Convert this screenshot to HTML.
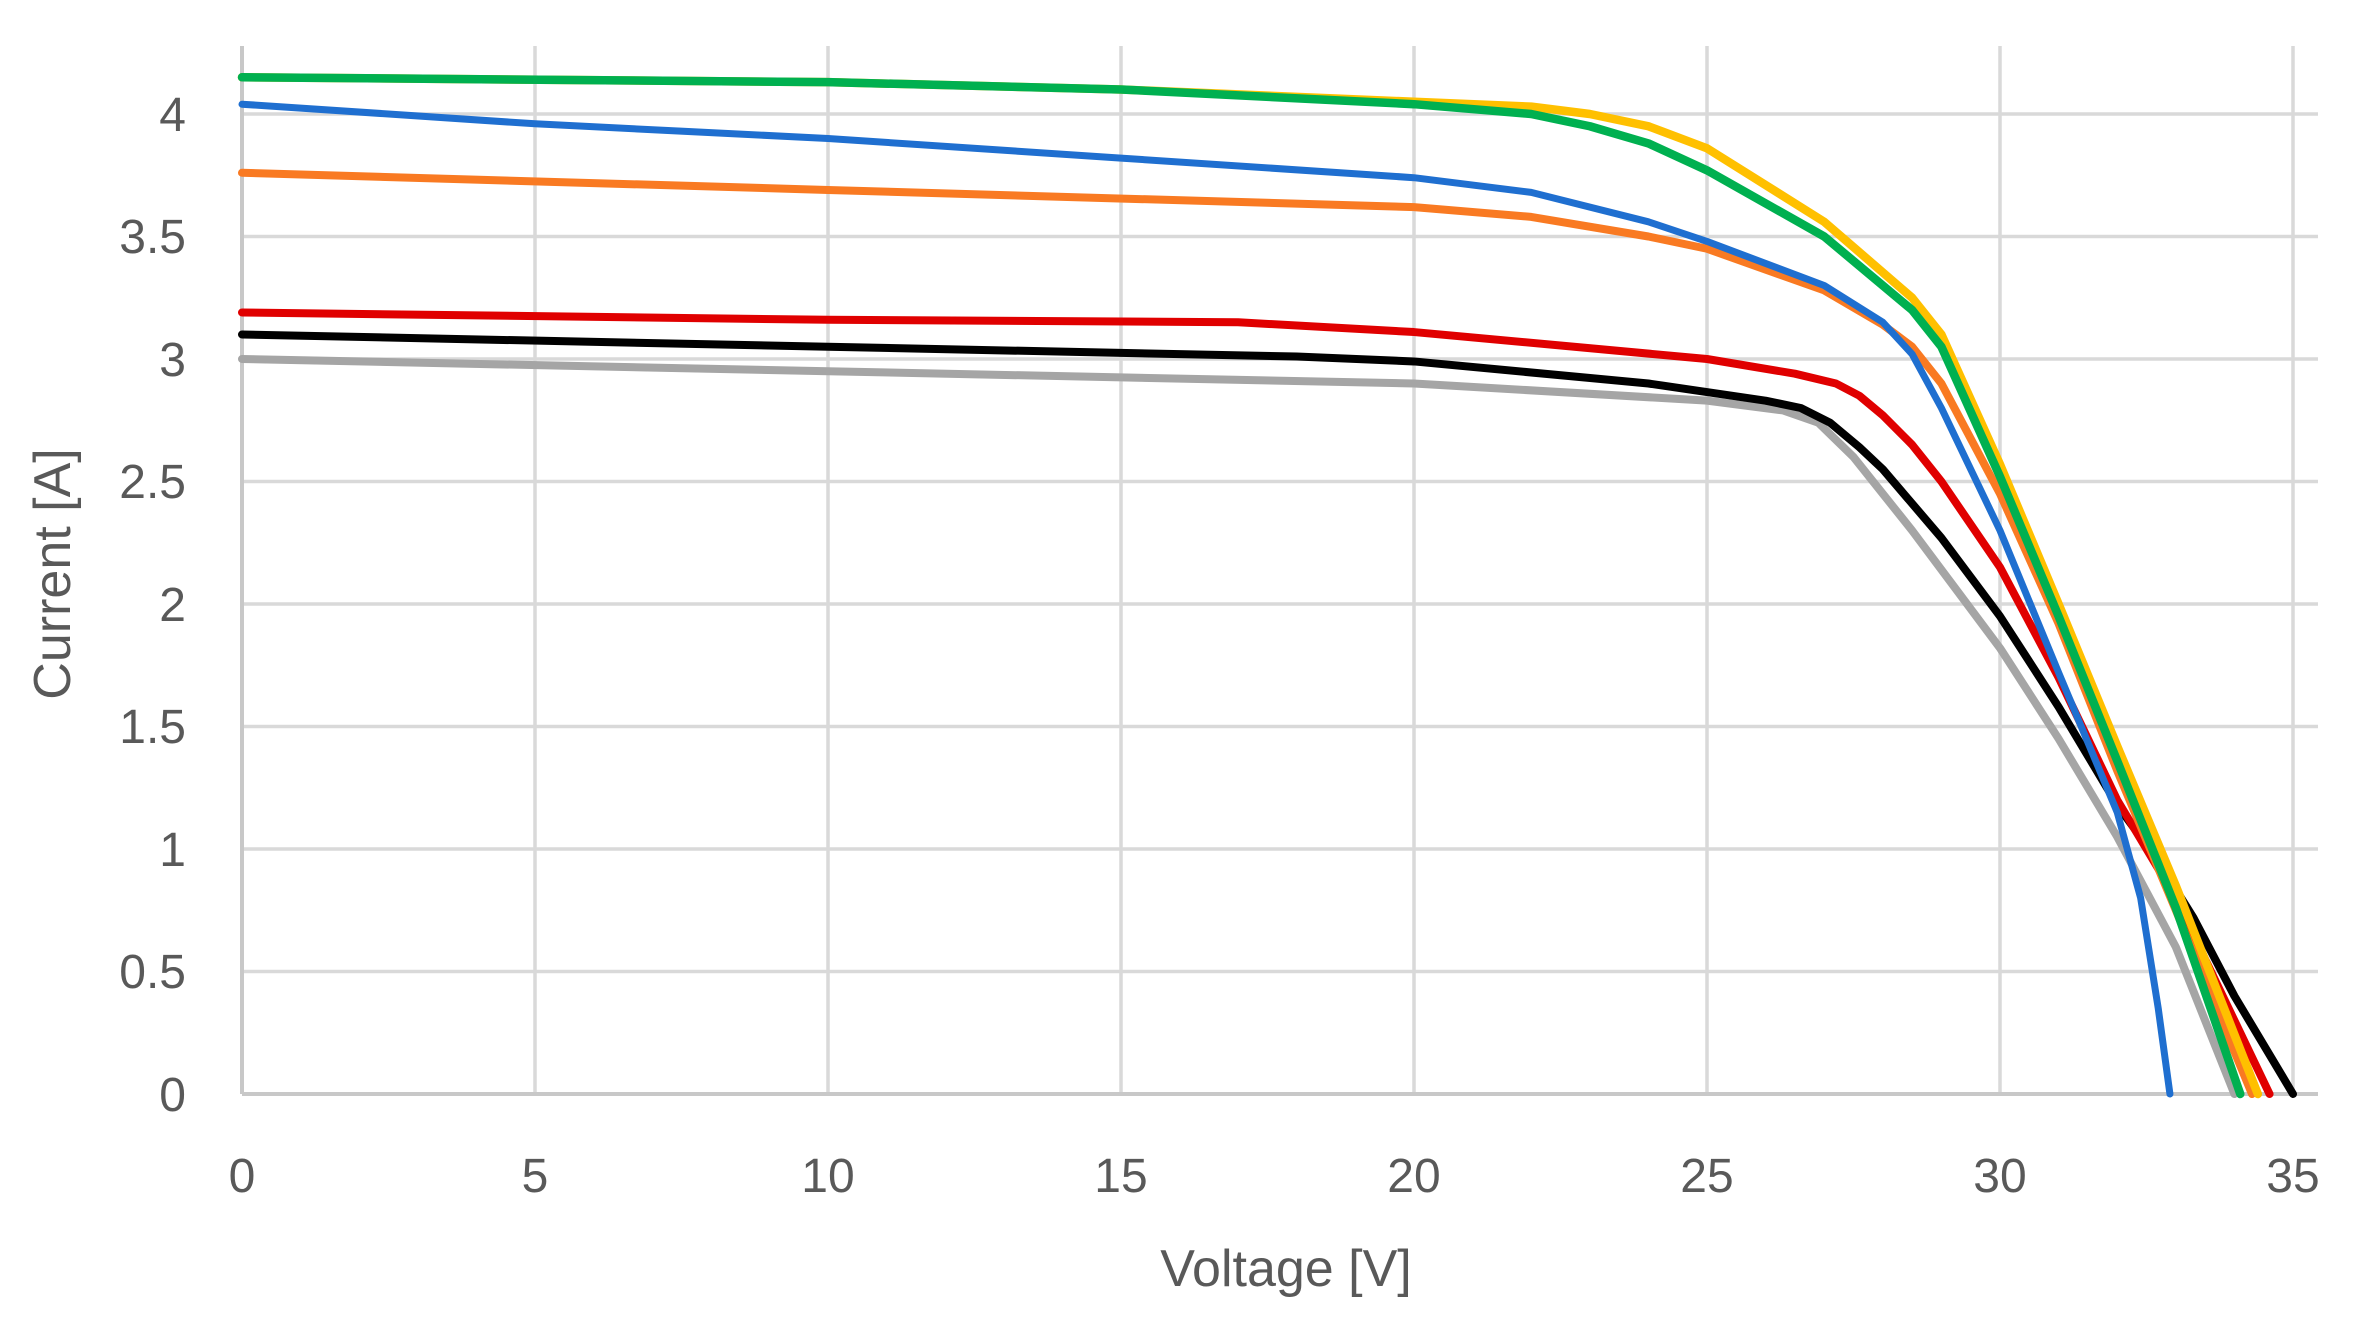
<!DOCTYPE html>
<html><head><meta charset="utf-8"><style>
html,body{margin:0;padding:0;background:#fff;}
svg{display:block;}
text{font-family:"Liberation Sans",sans-serif;fill:#595959;}
</style></head><body>
<svg width="2355" height="1323" viewBox="0 0 2355 1323" xmlns="http://www.w3.org/2000/svg">
<g stroke="#d9d9d9" stroke-width="3.5">
<line x1="242" y1="46" x2="242" y2="1094"/>
<line x1="535" y1="46" x2="535" y2="1094"/>
<line x1="828" y1="46" x2="828" y2="1094"/>
<line x1="1121" y1="46" x2="1121" y2="1094"/>
<line x1="1414" y1="46" x2="1414" y2="1094"/>
<line x1="1707" y1="46" x2="1707" y2="1094"/>
<line x1="2000" y1="46" x2="2000" y2="1094"/>
<line x1="2293" y1="46" x2="2293" y2="1094"/>
<line x1="242" y1="971.5" x2="2318" y2="971.5"/>
<line x1="242" y1="849" x2="2318" y2="849"/>
<line x1="242" y1="726.5" x2="2318" y2="726.5"/>
<line x1="242" y1="604" x2="2318" y2="604"/>
<line x1="242" y1="481.5" x2="2318" y2="481.5"/>
<line x1="242" y1="359" x2="2318" y2="359"/>
<line x1="242" y1="236.5" x2="2318" y2="236.5"/>
<line x1="242" y1="114" x2="2318" y2="114"/>
</g>
<line x1="242" y1="1094" x2="2318" y2="1094" stroke="#c8c8c8" stroke-width="4"/>
<line x1="242" y1="46" x2="242" y2="1094" stroke="#c8c8c8" stroke-width="4"/>
<g font-size="48" text-anchor="end">
<text x="186" y="1111">0</text>
<text x="186" y="988">0.5</text>
<text x="186" y="866">1</text>
<text x="186" y="743">1.5</text>
<text x="186" y="621">2</text>
<text x="186" y="498">2.5</text>
<text x="186" y="376">3</text>
<text x="186" y="253">3.5</text>
<text x="186" y="131">4</text>
</g>
<g font-size="48" text-anchor="middle">
<text x="242" y="1192">0</text>
<text x="535" y="1192">5</text>
<text x="828" y="1192">10</text>
<text x="1121" y="1192">15</text>
<text x="1414" y="1192">20</text>
<text x="1707" y="1192">25</text>
<text x="2000" y="1192">30</text>
<text x="2293" y="1192">35</text>
</g>
<text x="1286" y="1286" font-size="52" text-anchor="middle">Voltage [V]</text>
<text x="0" y="0" font-size="52" text-anchor="middle" transform="translate(70,574) rotate(-90)">Current [A]</text>
<g transform="translate(242,1094) scale(58.6,-245)" fill="none" stroke-linejoin="round" stroke-linecap="round">
<polyline vector-effect="non-scaling-stroke" stroke="#a5a5a5" stroke-width="8" points="0,3.0 10,2.95 20,2.9 25,2.83 26.3,2.79 26.9,2.74 27.5,2.6 28.5,2.3 30,1.82 31,1.45 32,1.05 33,0.6 34,0"/>
<polyline vector-effect="non-scaling-stroke" stroke="#000000" stroke-width="8" points="0,3.1 10,3.05 18,3.01 20,2.99 24,2.9 26,2.83 26.6,2.8 27.1,2.74 27.6,2.64 28,2.55 29,2.27 30,1.95 31,1.58 32,1.18 32.7,0.95 33.3,0.72 34,0.4 35,0"/>
<polyline vector-effect="non-scaling-stroke" stroke="#e00000" stroke-width="8" points="0,3.19 10,3.16 17,3.15 20,3.11 25,3.0 26.5,2.94 27.2,2.9 27.6,2.85 28,2.77 28.5,2.65 29,2.5 30,2.15 31,1.7 32,1.2 33,0.8 34.6,0"/>
<polyline vector-effect="non-scaling-stroke" stroke="#f97a22" stroke-width="8" points="0,3.76 10,3.69 20,3.62 22,3.58 24,3.5 25,3.45 27,3.28 28,3.14 28.5,3.05 29,2.9 30,2.45 31,1.92 32,1.32 33,0.75 34.3,0"/>
<polyline vector-effect="non-scaling-stroke" stroke="#1f6fd0" stroke-width="7" points="0,4.04 5,3.96 10,3.9 15,3.82 20,3.74 22,3.68 24,3.56 25,3.48 27,3.3 28,3.15 28.5,3.02 29,2.8 30,2.3 31,1.72 32,1.15 32.4,0.8 32.7,0.35 32.9,0"/>
<polyline vector-effect="non-scaling-stroke" stroke="#ffc000" stroke-width="8.5" points="0,4.15 10,4.13 15,4.1 20,4.05 22,4.03 23,4.0 24,3.95 25,3.86 27,3.56 28.5,3.25 29,3.1 30,2.57 31,2.0 32,1.42 33,0.85 34.4,0"/>
<polyline vector-effect="non-scaling-stroke" stroke="#00b050" stroke-width="8.5" points="0,4.15 10,4.13 15,4.1 20,4.04 22,4.0 23,3.95 24,3.88 25,3.77 27,3.5 28.5,3.2 29,3.05 30,2.52 31,1.95 32,1.36 33,0.76 34.1,0"/>
</g>
</svg>
</body></html>
